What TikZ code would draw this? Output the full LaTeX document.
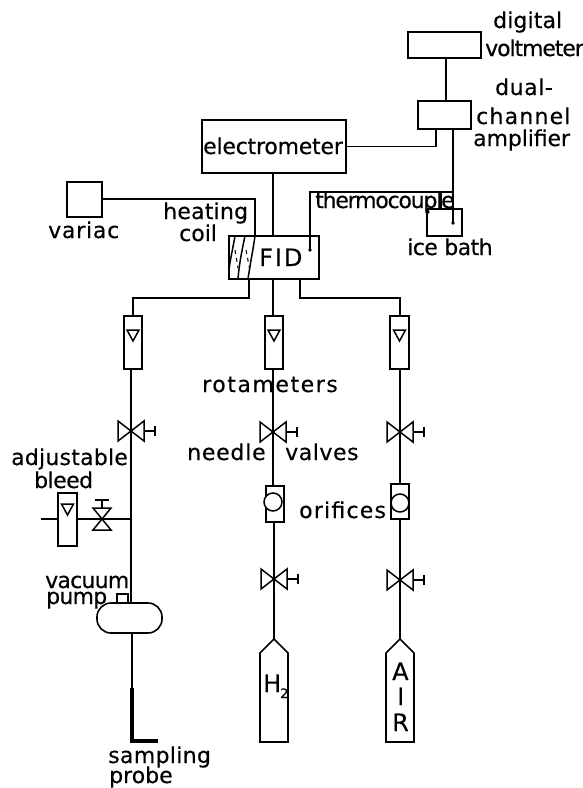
\documentclass[tikz,border=0pt]{standalone}
\usepackage{fontspec}
\setmainfont[FakeBold=0.3]{DejaVu Sans}
\usetikzlibrary{calc}
\tikzset{
  box/.style={draw,line width=1.6pt,inner sep=0pt,outer sep=0pt,anchor=north west},
  lab/.style={inner sep=0pt,anchor=base west,font=\fontsize{22}{24}\selectfont},
  biglab/.style={inner sep=0pt,anchor=base west,font=\fontsize{24}{26}\selectfont},
  wire/.style={line width=1.5pt,line join=miter},
  sym/.style={line width=1.5pt,line join=miter},
}
\newcommand{\bx}[5]{\node[box,minimum width=#4pt-#2pt,minimum height=#5pt-#3pt] (#1) at (#2,#3) {};}
% name, x, baseline y, letter spacing, text
\newcommand{\lb}[5]{\node[lab] (#1) at (#2,#3) {\addfontfeature{LetterSpace=#4}#5};}
\newcommand{\valveR}[3]{\coordinate (#1) at (#2,#3);
  \draw[sym] ($(#1)+(-13,-10)$) -- ($(#1)+(13,10)$) -- ($(#1)+(13,-10)$) -- ($(#1)+(-13,10)$) -- cycle;
  \draw[sym] ($(#1)+(13,0)$) -- ($(#1)+(24,0)$) ($(#1)+(24,-5)$) -- ($(#1)+(24,5)$);}
\newcommand{\flt}[2]{\draw[sym] ($(#1)+(-6,#2)$) -- ($(#1)+(6,#2)$) -- ($(#1)+(0,#2+11)$) -- cycle;}
\begin{document}
\begin{tikzpicture}[x=1pt,y=-1pt]
\useasboundingbox (0,0) rectangle (583,788);
% boxes
\bx{dvm}{408}{32}{481}{58}
\bx{amp}{418}{101}{471}{129}
\bx{elec}{202}{120}{346}{173}
\bx{var}{67}{182}{102}{217}
\bx{ice}{427}{209}{462}{236}
\bx{fid}{229}{236}{319}{279}
\bx{rotA}{124}{316}{142}{369}
\bx{rotB}{265}{316}{283}{369}
\bx{rotC}{390}{316}{409}{369}
\bx{rotD}{58}{493}{77}{546}
\bx{oriB}{266}{486}{284}{522}
\bx{oriC}{391}{484}{409}{519}
\node[draw,circle,line width=1.5pt,fill=white,minimum size=18pt,inner sep=0pt] (cirB) at (273,502) {};
\node[draw,circle,line width=1.5pt,fill=white,minimum size=18pt,inner sep=0pt] (cirC) at (400,503) {};
\bx{tab}{117}{594}{128}{603}
\node[draw,rounded corners=14pt,line width=1.6pt,outer sep=0pt,minimum width=65pt,minimum height=30pt,inner sep=0pt] (pump) at (129.5,618) {};
\flt{rotA.north}{14}
\flt{rotB.north}{14}
\flt{rotC.north}{14}
\flt{rotD.north}{11}
% valves
\valveR{vA}{131}{431}
\valveR{vB}{273}{432}
\valveR{vC}{400}{432}
\valveR{wB}{274}{579}
\valveR{wC}{400}{580}
\coordinate (vD) at (102,519);
\draw[sym] (93,508) -- (111,508) -- (93,530) -- (111,530) -- cycle;
\draw[sym] (vD) ++(0,-11) -- ++(0,-8) ++(-7,0) -- ++(14,0);
% cylinders
\draw[line width=1.6pt,line join=miter] (260,742) -- (260,653) -- (274,639) coordinate (cylB) -- (288,653) -- (288,742) -- cycle;
\draw[line width=1.6pt,line join=miter] (386,742) -- (386,653) -- (400,639) coordinate (cylC) -- (414,653) -- (414,742) -- cycle;
% connectors
\draw[wire] (dvm.south -| 446,0) -- (amp.north -| 446,0);
\draw[wire] (elec.east) -- (436,146.5) -- (amp.south -| 436,0);
\coordinate (tjA) at (453,192);
\coordinate (dotI) at (453,223);
\coordinate (dotL) at (428,212);
\coordinate (dotF) at (310,250);
\coordinate (tjB) at (310,192);
\draw[wire] (amp.south -| 453,0) -- (tjA) -- (dotI);
\draw[wire] (tjA) -- (tjB) -- (dotF);
\draw[wire] (441,192) -- (441,209);
\draw[wire] (dotL) -- (428,209);
\fill (dotI) circle (1.8) (dotL) circle (1.8) (dotF) circle (1.8);
\draw[wire] (elec.south -| 273,0) -- (fid.north -| 273,0);
\coordinate (coilT) at (255,236);
\draw[wire] (var.east |- 0,199) -- (255,199) -- (coilT);
\coordinate (fA) at (249,279);
\coordinate (fC) at (300,279);
\draw[wire] (fA) -- (249,298) -- (133,298) -- (rotA.north -| 133,0);
\draw[wire] (fid.south -| 273,0) -- (rotB.north -| 273,0);
\draw[wire] (fC) -- (300,298) -- (400,298) -- (rotC.north -| 400,0);
\draw[wire] (rotA.south -| 131,0) -- (vA) -- (pump.north -| 131,0);
\draw[wire] (rotB.south -| 273,0) -- (vB) -- (oriB.north -| 273,0);
\draw[wire] (rotC.south -| 400,0) -- (vC) -- (oriC.north -| 400,0);
\draw[wire] (oriB.south -| 274,0) -- (wB) -- (cylB);
\draw[wire] (oriC.south -| 400,0) -- (wC) -- (cylC);
\coordinate (bleedL) at (41,519);
\coordinate (bleedJ) at (131,519);
\draw[wire] (bleedL) -- (rotD.west |- bleedL);
\draw[wire] (rotD.east |- bleedL) -- (bleedJ);
\coordinate (prA) at (132,688);
\coordinate (prB) at (132,741);
\coordinate (prC) at (158,741);
\draw[wire] (pump.south -| 132,0) -- (prA);
\draw[line width=3.4pt,line join=miter] (prA) -- (prB) -- (prC);
% heating coil
\draw[wire] (235,236) .. controls (233,248) and (230,260) .. (229,270);
\draw[wire] (245,236) .. controls (242,250) and (239,265) .. (238,279);
\draw[wire] (coilT) .. controls (253,250) and (250,265) .. (248,279);
\draw[line width=1pt,dash pattern=on 4pt off 4pt] (235,250) -- (238,268);
\draw[line width=1pt,dash pattern=on 4pt off 4pt] (246,250) -- (250,271);
% labels
\lb{t1}{493}{28}{0.5}{digital}
\lb{t2}{485}{56}{-5}{voltmeter}
\lb{t3}{495}{95}{2.5}{dual-}
\lb{t4}{476}{124}{5.5}{channel}
\lb{t5}{473}{146}{-0.5}{amplifier}
\lb{t6}{203}{154}{-1}{electrometer}
\lb{t7}{315}{208}{-5.5}{thermocouple}
\lb{t8}{407}{255}{-2.5}{ice bath}
\lb{t9}{48}{238}{3.5}{variac}
\lb{t10}{163}{219}{1}{heating}
\lb{t11}{179}{241}{0}{coil}
\node[biglab] (t12) at (259,266) {\addfontfeature{LetterSpace=8}FID};
\lb{t13}{202}{392}{7}{rotameters}
\lb{t14}{187}{460}{3.5}{needle}
\lb{t15}{285}{460}{2.5}{valves}
\lb{t16}{11}{465}{1}{adjustable}
\lb{t17}{34}{488}{-2.5}{bleed}
\lb{t18}{299}{518}{5.5}{orifices}
\lb{t19}{45}{588}{-3.5}{vacuum}
\lb{t20}{46}{604}{-3.5}{pump}
\node[biglab] (t21) at (263,692) {H\kern-1pt\raisebox{-6pt}{\fontsize{13}{14}\selectfont 2}};
\node[biglab] (t22) at (392,680) {A};
\node[biglab] (t23) at (397,705) {I};
\node[biglab] (t24) at (392,731) {R};
\lb{t25}{108}{763}{1.5}{sampling}
\lb{t26}{109}{783}{0}{probe}
\end{tikzpicture}
\end{document}
